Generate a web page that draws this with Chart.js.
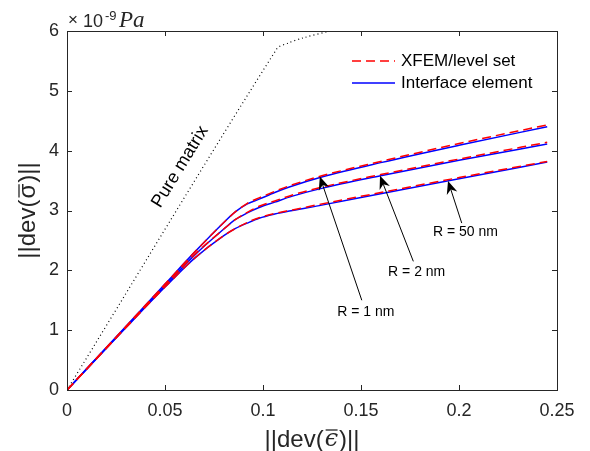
<!DOCTYPE html>
<html><head><meta charset="utf-8">
<script src="https://cdn.jsdelivr.net/npm/chart.js@4"></script>
<style>html,body{margin:0;padding:0;background:#fff}#wrap{width:590px;height:451px}</style>
</head><body><div id="wrap"><canvas id="c" width="590" height="451"></canvas></div>
<script>
// ---- data ----
const strainX = [0, 0.03, 0.05, 0.065, 0.08, 0.086, 0.092, 0.098, 0.106, 0.115, 0.13, 0.16, 0.2, 0.245];
const xfemR1  = [0, 1.06, 1.77, 2.30, 2.80, 2.98, 3.12, 3.21, 3.32, 3.43, 3.58, 3.82, 4.12, 4.43];
const ifaceR1 = [0, 1.06, 1.77, 2.30, 2.80, 2.98, 3.11, 3.19, 3.30, 3.41, 3.56, 3.80, 4.09, 4.40];
const xfemR2  = [0, 1.05, 1.75, 2.26, 2.69, 2.85, 2.97, 3.07, 3.16, 3.26, 3.39, 3.60, 3.86, 4.14];
const ifaceR2 = [0, 1.05, 1.74, 2.25, 2.69, 2.85, 2.96, 3.05, 3.14, 3.24, 3.37, 3.58, 3.84, 4.11];
const xfemR50 = [0, 1.04, 1.72, 2.20, 2.58, 2.70, 2.80, 2.88, 2.95, 3.01, 3.11, 3.30, 3.55, 3.82];
const ifaceR50= [0, 1.04, 1.72, 2.20, 2.58, 2.70, 2.79, 2.87, 2.94, 3.00, 3.09, 3.28, 3.53, 3.81];
const pureX   = [0, 0.107, 0.113, 0.12, 0.134];
const pureY   = [0, 5.70, 5.80, 5.88, 6.00];
const xTicks = [0, 0.05, 0.1, 0.15, 0.2, 0.25];
const xTickLabels = ['0', '0.05', '0.1', '0.15', '0.2', '0.25'];
const yTicks = [0, 1, 2, 3, 4, 5, 6];
const yTickLabels = ['0', '1', '2', '3', '4', '5', '6'];
const legendLabels = ['XFEM/level set', 'Interface element'];
// annotation arrows: label, label position, arrow tail, arrow tip (data units)
const radiusNotes = [
  {text: 'R = 1 nm',  lx: 0.1525, ly: 1.30, tx: 0.1504, ty: 1.50, hx: 0.129,  hy: 3.567},
  {text: 'R = 2 nm',  lx: 0.1784, ly: 1.97, tx: 0.1767, ty: 2.15, hx: 0.1597, hy: 3.58},
  {text: 'R = 50 nm', lx: 0.2033, ly: 2.64, tx: 0.2014, ty: 2.79, hx: 0.1944, hy: 3.495}
];
const pureNote = {text: 'Pure matrix', x: 0.0577, y: 3.73};

const pts = (xa, ya) => xa.map((v, i) => ({x: v, y: ya[i]}));
const RED = '#ff0000', BLUE = '#0000ff', AX = '#262626';
const SANS = '"Liberation Sans", Arial, sans-serif';

function ds(data, color, dash) {
  return {data, borderColor: color, borderWidth: 1.5, borderDash: dash, pointRadius: 0,
    fill: false, cubicInterpolationMode: 'monotone'};
}

const decor = {
  id: 'decor',
  afterDraw(chart) {
    const {ctx, chartArea: a, scales: {x, y}} = chart;
    ctx.save();
    // box
    ctx.strokeStyle = AX; ctx.lineWidth = 1;
    ctx.strokeRect(Math.round(a.left) + 0.5, Math.round(a.top) + 0.5,
      Math.round(a.right - a.left), Math.round(a.bottom - a.top));
    // inward ticks on all sides
    const tl = 5;
    ctx.beginPath();
    xTicks.forEach(v => {
      const px = Math.round(x.getPixelForValue(v)) + 0.5;
      ctx.moveTo(px, a.bottom); ctx.lineTo(px, a.bottom - tl);
      ctx.moveTo(px, a.top); ctx.lineTo(px, a.top + tl);
    });
    yTicks.forEach(v => {
      const py = Math.round(y.getPixelForValue(v)) + 0.5;
      ctx.moveTo(a.left, py); ctx.lineTo(a.left + tl, py);
      ctx.moveTo(a.right, py); ctx.lineTo(a.right - tl, py);
    });
    ctx.stroke();

    // exponent label
    ctx.fillStyle = AX; ctx.textBaseline = 'alphabetic'; ctx.textAlign = 'left';
    ctx.font = '17px ' + SANS; ctx.fillText('\u00d7', a.left + 1, 25);
    ctx.font = '18px ' + SANS; ctx.fillText('10', a.left + 16, 27);
    ctx.font = '13px ' + SANS; ctx.fillText('-9', a.left + 38, 20);
    ctx.font = 'italic 23px "Liberation Serif", serif'; ctx.fillText('Pa', a.left + 52, 27);

    // axis titles
    function composite(cx, cy, rot, sym, symFont, barLift) {
      ctx.save();
      ctx.translate(cx, cy); ctx.rotate(rot);
      const f1 = '24px ' + SANS;
      ctx.font = f1; const w1 = ctx.measureText('||dev(').width, w3 = ctx.measureText(')||').width;
      ctx.font = symFont; const w2 = ctx.measureText(sym).width;
      const tot = w1 + w2 + w3 + 2;
      let px = -tot / 2;
      ctx.textBaseline = 'middle'; ctx.textAlign = 'left'; ctx.fillStyle = AX;
      ctx.font = f1; ctx.fillText('||dev(', px, 0); px += w1 + 1;
      ctx.font = symFont; ctx.fillText(sym, px, 0);
      ctx.strokeStyle = AX; ctx.lineWidth = 1.3;
      ctx.beginPath(); ctx.moveTo(px + 1, -barLift); ctx.lineTo(px + w2 - 0.5, -barLift); ctx.stroke();
      px += w2 + 1;
      ctx.font = f1; ctx.fillText(')||', px, 0);
      ctx.restore();
    }
    composite((a.left + a.right) / 2, 440, 0, '\u03f5', 'italic 24px "DejaVu Serif", serif', 10);
    composite(28, (a.top + a.bottom) / 2, -Math.PI / 2, '\u03c3', '24px ' + SANS, 9);

    // legend
    const lx0 = a.right - 205, lx1 = a.right - 162;
    const rows = [{c: RED, d: [9, 5], yy: a.top + 30}, {c: BLUE, d: [], yy: a.top + 52}];
    rows.forEach((r, i) => {
      ctx.strokeStyle = r.c; ctx.lineWidth = 1.5; ctx.setLineDash(r.d);
      ctx.beginPath(); ctx.moveTo(lx0, r.yy); ctx.lineTo(lx1, r.yy); ctx.stroke();
      ctx.setLineDash([]);
      ctx.fillStyle = '#000'; ctx.font = '17px ' + SANS; ctx.textBaseline = 'middle';
      ctx.fillText(legendLabels[i], lx1 + 6, r.yy);
    });

    // pure matrix label
    ctx.save();
    ctx.translate(x.getPixelForValue(pureNote.x), y.getPixelForValue(pureNote.y));
    ctx.rotate(-58.5 * Math.PI / 180);
    ctx.font = '18px ' + SANS; ctx.fillStyle = '#000'; ctx.textAlign = 'center'; ctx.textBaseline = 'middle';
    ctx.fillText(pureNote.text, 0, 0);
    ctx.restore();

    // radius annotations
    radiusNotes.forEach(n => {
      const tx = x.getPixelForValue(n.tx), ty = y.getPixelForValue(n.ty);
      const hx = x.getPixelForValue(n.hx), hy = y.getPixelForValue(n.hy);
      const ang = Math.atan2(hy - ty, hx - tx);
      const L = 13, W = 5.5, notch = 9;
      const bx = hx - notch * Math.cos(ang), by = hy - notch * Math.sin(ang);
      ctx.strokeStyle = '#000'; ctx.lineWidth = 1;
      ctx.beginPath(); ctx.moveTo(tx, ty); ctx.lineTo(bx, by); ctx.stroke();
      const cx = hx - L * Math.cos(ang), cy = hy - L * Math.sin(ang);
      const nx = -Math.sin(ang), ny = Math.cos(ang);
      ctx.fillStyle = '#000';
      ctx.beginPath();
      ctx.moveTo(hx, hy);
      ctx.lineTo(cx + nx * W, cy + ny * W);
      ctx.lineTo(bx, by);
      ctx.lineTo(cx - nx * W, cy - ny * W);
      ctx.closePath(); ctx.fill();
      ctx.font = '14px ' + SANS; ctx.textAlign = 'center'; ctx.textBaseline = 'middle';
      ctx.fillText(n.text, x.getPixelForValue(n.lx), y.getPixelForValue(n.ly));
    });
    ctx.restore();
  }
};

new Chart(document.getElementById('c'), {
  type: 'line',
  data: {
    datasets: [
      ds(pts(strainX, xfemR1), RED, [9, 5]),
      ds(pts(strainX, xfemR2), RED, [9, 5]),
      ds(pts(strainX, xfemR50), RED, [9, 5]),
      ds(pts(strainX, ifaceR1), BLUE, []),
      ds(pts(strainX, ifaceR2), BLUE, []),
      ds(pts(strainX, ifaceR50), BLUE, []),
      {data: pts(pureX, pureY), borderColor: '#000', borderWidth: 1.2, borderDash: [1, 3],
       pointRadius: 0, fill: false, tension: 0.3}
    ]
  },
  options: {
    responsive: false, animation: false, events: [],
    layout: {padding: {left: 0, top: 31, right: 33, bottom: 0}},
    plugins: {legend: {display: false}, tooltip: {enabled: false}},
    scales: {
      x: {
        type: 'linear', min: 0, max: 0.25,
        afterBuildTicks: s => { s.ticks = xTicks.map(v => ({value: v})); },
        afterFit: s => { s.height = 61; },
        grid: {display: false, drawTicks: false}, border: {display: false},
        ticks: {callback: (v, i) => xTickLabels[i], font: {family: SANS, size: 18}, color: AX, padding: 10, maxRotation: 0}
      },
      y: {
        type: 'linear', min: 0, max: 6,
        afterBuildTicks: s => { s.ticks = yTicks.map(v => ({value: v})); },
        afterFit: s => { s.width = 67; },
        grid: {display: false, drawTicks: false}, border: {display: false},
        ticks: {callback: (v, i) => yTickLabels[i], font: {family: SANS, size: 18}, color: AX, padding: 8}
      }
    }
  },
  plugins: [decor]
});
</script></body></html>
